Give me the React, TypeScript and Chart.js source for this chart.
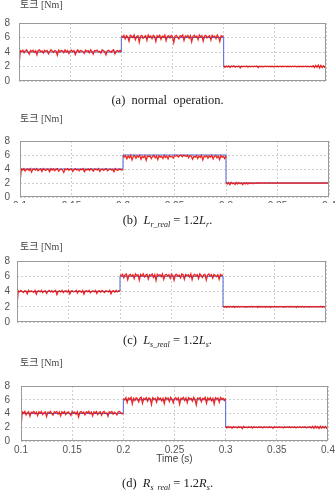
import React, { useEffect, useRef } from 'react';
import { Chart, registerables } from 'chart.js';

Chart.register(...registerables);

// Time axis and the commanded (reference) torque steps
const stepTimes = [0.1, 0.2, 0.3, 0.4];
const refTorque = [4, 6, 2, 2];
const xMin = 0.1;
const xMax = 0.4;
const xTickStep = 0.05;
const yMin = 0;
const yMax = 8;
const yTickStep = 2;

// Measured torque [Nm], one array per load step, sampled evenly over each step
// (a) normal operation
const normalSeg1 = [2.1, 4.2, 4.05, 4.25, 3.9, 4.15, 4.3, 4.0, 3.7, 4.2, 4.1, 4.25, 3.95, 4.15, 3.6, 4.2, 4.3, 4.05, 4.15, 3.85, 4.25, 4.1, 4.2, 3.75, 4.05, 4.3, 4.15, 3.95, 4.2, 4.1, 3.55, 4.25, 4.05, 4.2, 4.15, 3.9, 4.3, 4.0, 4.2, 3.8, 4.15, 4.25, 4.05, 4.2, 3.65, 4.1, 4.3, 3.95, 4.2, 4.15, 4.05, 3.8, 4.25, 4.1, 4.2, 3.9, 4.3, 4.05, 3.7, 4.2, 4.15, 4.25, 4.0, 4.1, 3.85, 4.3, 4.2, 4.05, 3.6, 4.15, 4.25, 4.1, 3.95, 4.2, 4.3, 3.75, 4.1, 4.2, 4.05, 4.25, 4.0];
const normalSeg2 = [6.2, 6.05, 6.3, 5.8, 6.25, 6.1, 5.5, 6.3, 6.2, 6.0, 6.35, 5.7, 6.15, 6.25, 5.35, 6.2, 6.3, 5.9, 6.1, 6.25, 5.6, 6.35, 6.05, 6.2, 5.85, 6.3, 6.15, 5.45, 6.25, 6.1, 6.3, 5.75, 6.2, 6.05, 6.35, 5.55, 6.15, 6.25, 5.95, 6.3, 6.1, 5.3, 6.2, 6.3, 6.05, 5.8, 6.25, 6.15, 6.35, 5.6, 6.2, 6.1, 6.3, 5.9, 6.25, 5.4, 6.15, 6.3, 6.05, 6.2, 5.7, 6.35, 6.1, 6.25, 5.5, 6.2, 6.3, 5.95, 6.15, 6.25, 5.65, 6.3, 6.1, 6.2, 5.85, 6.35, 6.05, 5.45, 6.25, 6.15, 6.2];
const normalSeg3 = [2.1, 1.9, 2.05, 1.95, 2.08, 1.85, 2.05, 1.98, 2.1, 1.9, 2.04, 1.96, 2.06, 1.8, 2.05, 1.97, 2.04, 1.95, 2.06, 1.92, 2.04, 1.97, 2.05, 1.95, 2.03, 1.98, 2.05, 1.85, 2.04, 1.97, 2.03, 1.96, 2.05, 1.98, 2.03, 1.95, 2.04, 1.97, 2.03, 1.96, 2.04, 1.98, 2.03, 1.96, 2.04, 1.97, 2.03, 1.98, 2.04, 1.96, 2.03, 1.97, 2.04, 1.95, 2.03, 1.98, 2.04, 1.96, 2.03, 1.97, 2.04, 1.96, 2.03, 1.98, 2.04, 1.97, 2.03, 1.96, 2.05, 1.95, 2.1, 1.85, 2.15, 1.9, 2.2, 1.8, 2.15, 1.85, 2.1, 1.9, 2.05];
// (b) rotor inductance error
const lrSeg1 = [2.0, 4.0, 3.85, 4.05, 3.7, 3.95, 4.0, 3.8, 4.05, 3.55, 3.95, 4.0, 3.85, 4.05, 3.75, 3.9, 4.0, 3.65, 4.05, 3.9, 3.8, 4.0, 3.95, 3.6, 4.05, 3.85, 4.0, 3.75, 3.95, 4.05, 3.7, 3.9, 4.0, 3.85, 3.5, 4.0, 3.9, 4.05, 3.8, 3.95, 4.0, 3.65, 3.9, 4.05, 3.85, 3.95, 3.75, 4.0, 3.9, 4.05, 3.6, 3.95, 3.85, 4.0, 3.8, 4.05, 3.9, 3.7, 4.0, 3.95, 3.85, 4.05, 3.65, 3.9, 4.0, 3.8, 3.95, 4.05, 3.75, 3.9, 4.0, 3.85, 3.95, 3.6, 4.05, 3.9, 3.8, 4.0, 3.95, 3.85, 3.95];
const lrSeg2 = [5.95, 5.7, 5.9, 5.45, 5.85, 5.6, 5.95, 5.3, 5.8, 5.9, 5.55, 5.85, 5.7, 5.95, 5.4, 5.8, 5.65, 5.9, 5.25, 5.85, 5.75, 5.9, 5.5, 5.8, 5.95, 5.6, 5.85, 5.35, 5.9, 5.7, 5.8, 5.5, 5.95, 5.65, 5.85, 5.45, 5.9, 5.75, 5.8, 5.55, 5.9, 5.85, 5.95, 5.7, 5.9, 5.98, 5.75, 5.95, 5.9, 5.8, 5.95, 5.6, 5.9, 5.85, 5.4, 5.8, 5.7, 5.9, 5.5, 5.85, 5.65, 5.95, 5.3, 5.8, 5.75, 5.9, 5.55, 5.85, 5.7, 5.95, 5.45, 5.8, 5.9, 5.6, 5.85, 5.35, 5.9, 5.7, 5.8, 5.5, 5.9];
const lrSeg3 = [2.1, 1.85, 2.05, 1.75, 2.1, 1.9, 2.0, 1.8, 2.08, 1.85, 2.05, 1.9, 2.02, 1.78, 2.05, 1.88, 2.04, 1.85, 2.03, 1.92, 2.04, 1.9, 2.02, 1.95, 2.03, 1.97, 2.02, 1.98, 2.02, 1.98, 2.01, 1.99, 2.01, 1.99, 2.01, 1.99, 2.01, 1.99, 2.01, 1.99, 2.01, 1.99, 2.01, 1.99, 2.01, 1.99, 2.01, 1.99, 2.01, 1.99, 2.01, 1.99, 2.01, 1.99, 2.01, 1.99, 2.01, 1.99, 2.01, 1.99, 2.01, 1.99, 2.01, 1.99, 2.01, 1.99, 2.01, 1.99, 2.01, 1.99, 2.01, 1.99, 2.01, 1.99, 2.01, 1.99, 2.01, 1.99, 2.01, 1.99, 2.0];
// (c) stator inductance error
const lsSeg1 = [2.2, 4.1, 3.95, 4.15, 4.0, 3.85, 4.1, 4.05, 3.7, 4.15, 3.95, 4.1, 4.0, 3.9, 4.15, 3.65, 4.05, 4.1, 3.95, 4.15, 3.85, 4.05, 4.1, 3.75, 4.0, 4.15, 3.95, 4.1, 3.9, 4.05, 4.15, 3.6, 4.0, 4.1, 3.95, 4.15, 3.85, 4.05, 4.1, 3.9, 4.15, 3.7, 4.05, 4.1, 3.95, 4.0, 4.15, 3.8, 4.1, 4.05, 3.9, 4.15, 3.65, 4.05, 4.1, 3.95, 4.15, 3.85, 4.0, 4.1, 3.95, 4.15, 3.75, 4.05, 4.1, 3.9, 4.15, 4.0, 3.85, 4.1, 4.05, 3.95, 4.15, 3.7, 4.05, 4.1, 3.9, 4.15, 3.95, 4.1, 4.05];
const lsSeg2 = [6.2, 6.05, 6.25, 5.8, 6.2, 6.3, 5.55, 6.15, 6.25, 6.0, 6.2, 5.7, 6.3, 6.1, 6.2, 5.5, 6.25, 6.05, 6.3, 5.9, 6.15, 6.25, 5.65, 6.2, 6.1, 6.3, 5.85, 6.2, 5.45, 6.25, 6.1, 6.2, 5.95, 6.3, 5.6, 6.15, 6.25, 6.05, 6.2, 5.75, 6.3, 6.1, 5.5, 6.2, 6.25, 6.0, 6.15, 5.8, 6.3, 6.2, 5.6, 6.25, 6.1, 6.2, 5.9, 6.3, 5.55, 6.15, 6.25, 6.05, 6.2, 5.7, 6.3, 6.1, 5.85, 6.2, 6.25, 5.5, 6.15, 6.3, 6.05, 6.2, 5.75, 6.25, 6.1, 5.95, 6.2, 5.6, 6.25, 6.1, 6.15];
const lsSeg3 = [2.05, 1.95, 2.04, 1.9, 2.05, 1.97, 2.03, 1.96, 2.05, 1.92, 2.04, 1.97, 2.03, 1.95, 2.05, 1.98, 2.04, 1.93, 2.03, 1.97, 2.04, 1.96, 2.05, 1.95, 2.03, 1.98, 2.04, 1.92, 2.05, 1.97, 2.03, 1.96, 2.04, 1.95, 2.05, 1.97, 2.03, 1.9, 2.04, 1.96, 2.05, 1.97, 2.03, 1.95, 2.04, 1.98, 2.05, 1.93, 2.03, 1.97, 2.04, 1.96, 2.05, 1.95, 2.03, 1.97, 2.04, 1.92, 2.05, 1.96, 2.03, 1.97, 2.04, 1.95, 2.05, 1.98, 2.03, 1.94, 2.04, 1.97, 2.05, 1.96, 2.03, 1.95, 2.04, 1.97, 2.05, 1.93, 2.04, 1.97, 2.02];
// (d) stator resistance error
const rsSeg1 = [2.0, 4.25, 4.05, 4.3, 3.8, 4.15, 4.25, 3.6, 4.2, 4.1, 4.3, 3.95, 4.2, 3.7, 4.25, 4.05, 4.3, 3.85, 4.15, 4.25, 3.55, 4.2, 4.1, 4.3, 4.0, 3.75, 4.25, 4.15, 4.3, 3.9, 4.2, 3.65, 4.25, 4.05, 4.3, 3.85, 4.15, 4.25, 4.0, 3.7, 4.3, 4.1, 4.2, 3.9, 4.25, 3.5, 4.15, 4.3, 4.05, 4.2, 3.8, 4.25, 4.1, 4.3, 3.95, 4.2, 3.65, 4.25, 4.05, 4.3, 3.85, 4.15, 4.25, 3.75, 4.2, 4.3, 4.0, 4.1, 3.6, 4.25, 4.15, 4.3, 3.9, 4.2, 4.05, 3.8, 4.25, 4.3, 4.1, 3.95, 4.1];
const rsSeg2 = [6.2, 6.0, 6.3, 5.6, 6.25, 6.1, 6.35, 5.4, 6.2, 5.9, 6.3, 6.15, 5.7, 6.25, 6.35, 5.5, 6.2, 6.05, 6.3, 5.8, 6.25, 6.15, 5.3, 6.3, 6.1, 6.2, 5.65, 6.35, 6.05, 6.25, 5.85, 6.2, 5.45, 6.3, 6.15, 6.25, 5.75, 6.35, 6.1, 5.55, 6.2, 6.3, 6.0, 6.25, 5.35, 6.2, 6.15, 6.35, 5.9, 6.25, 5.6, 6.3, 6.1, 6.2, 5.8, 6.35, 6.05, 5.25, 6.25, 6.15, 6.3, 5.7, 6.2, 6.1, 6.35, 5.5, 6.25, 6.0, 6.3, 5.85, 6.2, 5.4, 6.3, 6.15, 6.25, 5.65, 6.35, 6.1, 6.2, 5.9, 6.2];
const rsSeg3 = [2.15, 1.9, 2.1, 1.95, 2.05, 1.85, 2.1, 1.97, 2.05, 1.9, 2.08, 1.95, 2.05, 1.8, 2.1, 1.96, 2.05, 1.92, 2.07, 1.95, 2.05, 1.88, 2.06, 1.96, 2.04, 1.93, 2.06, 1.97, 2.05, 1.9, 2.06, 1.95, 2.04, 1.92, 2.06, 1.97, 2.05, 1.85, 2.06, 1.95, 2.04, 1.93, 2.06, 1.96, 2.05, 1.9, 2.06, 1.95, 2.04, 1.97, 2.06, 1.92, 2.05, 1.95, 2.06, 1.9, 2.04, 1.96, 2.06, 1.93, 2.05, 1.97, 2.06, 1.9, 2.05, 1.95, 2.1, 1.88, 2.12, 1.85, 2.15, 1.9, 2.1, 1.82, 2.15, 1.88, 2.12, 1.9, 2.1, 1.85, 2.1];

const axisTitleText = '토크 [Nm]';
const timeTitleText = 'Time (s)';

type Pt = { x: number; y: number | null };

// Lay each step's samples evenly between its start and end time; a null point
// breaks the trace so the reference step edge stays visible.
function measuredPoints(segs: number[][]): Pt[] {
  const pts: Pt[] = [];
  segs.forEach((seg, k) => {
    const t0 = stepTimes[k];
    const dt = (stepTimes[k + 1] - t0) / (seg.length - 1);
    seg.forEach((v, i) => pts.push({ x: t0 + i * dt, y: v }));
    if (k < segs.length - 1) pts.push({ x: stepTimes[k + 1], y: null });
  });
  return pts;
}

function referencePoints(): Pt[] {
  return stepTimes.map((t, i) => ({ x: t, y: refTorque[i] }));
}

const CANVAS_W = 360;
const PAD_TOP = 6;
const X_AXIS_H = 22;

const boxPlugin = {
  id: 'plotBox',
  afterDraw(chart: any) {
    const { ctx, chartArea } = chart;
    ctx.save();
    ctx.strokeStyle = '#9a9a9a';
    ctx.lineWidth = 1;
    ctx.strokeRect(
      chartArea.left + 0.5,
      chartArea.top + 0.5,
      chartArea.right - chartArea.left - 1,
      chartArea.bottom - chartArea.top - 1
    );
    ctx.restore();
  },
};

type PanelProps = {
  left: number;
  right: number;
  top: number;
  bottom: number;
  showX: boolean;
  visibleBottom: number;
  segs: number[][];
};

function TorquePanel({ left, right, top, bottom, showX, visibleBottom, segs }: PanelProps) {
  const ref = useRef<HTMLCanvasElement | null>(null);
  const canvasTop = top - PAD_TOP;
  const canvasH = bottom - top + PAD_TOP + X_AXIS_H;

  useEffect(() => {
    if (!ref.current) return;
    const chart = new Chart(ref.current, {
      type: 'line',
      data: {
        datasets: [
          {
            data: measuredPoints(segs) as any,
            borderColor: 'rgba(236, 22, 16, 0.92)',
            borderWidth: 1.3,
            pointRadius: 0,
            spanGaps: false,
            order: 0,
          },
          {
            data: referencePoints() as any,
            borderColor: '#4e68d8',
            borderWidth: 1,
            pointRadius: 0,
            stepped: true,
            order: 1,
          },
        ],
      },
      options: {
        responsive: false,
        animation: false,
        events: [],
        layout: { padding: { left: 0, right: CANVAS_W - right, top: PAD_TOP, bottom: 0 } },
        plugins: { legend: { display: false }, tooltip: { enabled: false } },
        scales: {
          x: {
            type: 'linear',
            min: xMin,
            max: xMax,
            afterFit: (s: any) => {
              s.height = X_AXIS_H;
            },
            grid: { color: '#cfcfcf', drawTicks: false },
            border: { display: false, dash: [2, 2] },
            ticks: {
              display: showX,
              stepSize: xTickStep,
              padding: 3,
              color: '#555',
              font: { family: "'Liberation Sans', Arial, sans-serif", size: 10 },
              maxRotation: 0,
              autoSkip: false,
              callback: (v: any) => String(Number(Number(v).toFixed(2))),
            },
          },
          y: {
            min: yMin,
            max: yMax,
            afterFit: (s: any) => {
              s.width = left;
            },
            grid: { color: '#cfcfcf', drawTicks: false },
            border: { display: false, dash: [2, 2] },
            ticks: {
              stepSize: yTickStep,
              autoSkip: false,
              padding: left - 10,
              color: '#555',
              font: { family: "'Liberation Sans', Arial, sans-serif", size: 10 },
            },
          },
        },
      },
      plugins: [boxPlugin],
    });
    return () => chart.destroy();
  }, []);

  return (
    <div
      style={{
        position: 'absolute',
        left: 0,
        top: canvasTop,
        width: 335,
        height: Math.min(canvasH, visibleBottom - canvasTop),
        overflow: 'hidden',
      }}
    >
      <canvas ref={ref} width={CANVAS_W} height={canvasH} style={{ display: 'block' }} />
    </div>
  );
}

const serif = "'Liberation Serif', 'Times New Roman', serif";

function AxisTitle({ y }: { y: number }) {
  return (
    <div
      style={{
        position: 'absolute',
        left: 20,
        top: y - 7,
        fontFamily: "'Liberation Serif', 'Noto Sans CJK KR', serif",
        fontSize: 10,
        lineHeight: '14px',
        color: '#444',
        whiteSpace: 'nowrap',
      }}
    >
      {axisTitleText}
    </div>
  );
}

function Caption({ y, children }: { y: number; children: React.ReactNode }) {
  return (
    <div
      style={{
        position: 'absolute',
        left: 0,
        width: 335,
        top: y - 9,
        textAlign: 'center',
        fontFamily: serif,
        fontSize: 12.5,
        lineHeight: '18px',
        color: '#222',
        whiteSpace: 'nowrap',
      }}
    >
      {children}
    </div>
  );
}

const subStyle: React.CSSProperties = { fontSize: 8, fontStyle: 'italic', verticalAlign: '-3px' };

function MathCaption({ tag, sym, sub }: { tag: string; sym: string; sub: string }) {
  return (
    <span>
      {tag}&nbsp; <i>{sym}</i>
      <span style={subStyle}>{sub + '_real'}</span> = 1.2<i>{sym}</i>
      <span style={subStyle}>{sub}</span>.
    </span>
  );
}

export default function App() {
  return (
    <div
      style={{
        position: 'absolute',
        left: 0,
        top: 0,
        width: 335,
        height: 490,
        overflow: 'hidden',
        background: '#fff',
      }}
    >
      <TorquePanel left={19} right={326} top={14} bottom={81} showX={false} visibleBottom={95} segs={[normalSeg1, normalSeg2, normalSeg3]} />
      <AxisTitle y={5} />
      <Caption y={100}>(a)&nbsp; normal&nbsp; operation.</Caption>

      <TorquePanel left={20} right={329} top={131} bottom={197} showX={true} visibleBottom={203} segs={[lrSeg1, lrSeg2, lrSeg3]} />
      <AxisTitle y={119} />
      <Caption y={220}>
        <MathCaption tag="(b)" sym="L" sub="r" />
      </Caption>

      <TorquePanel left={17} right={326} top={254} bottom={322} showX={false} visibleBottom={335} segs={[lsSeg1, lsSeg2, lsSeg3]} />
      <AxisTitle y={247} />
      <Caption y={340}>
        <MathCaption tag="(c)" sym="L" sub="s" />
      </Caption>

      <TorquePanel left={21} right={328} top={375} bottom={441} showX={true} visibleBottom={470} segs={[rsSeg1, rsSeg2, rsSeg3]} />
      <AxisTitle y={363} />
      <div
        style={{
          position: 'absolute',
          left: 21,
          width: 307,
          top: 453,
          textAlign: 'center',
          fontFamily: "'Liberation Sans', Arial, sans-serif",
          fontSize: 10,
          lineHeight: '12px',
          color: '#444',
        }}
      >
        {timeTitleText}
      </div>
      <Caption y={483}>
        <MathCaption tag="(d)" sym="R" sub="s" />
      </Caption>
    </div>
  );
}
